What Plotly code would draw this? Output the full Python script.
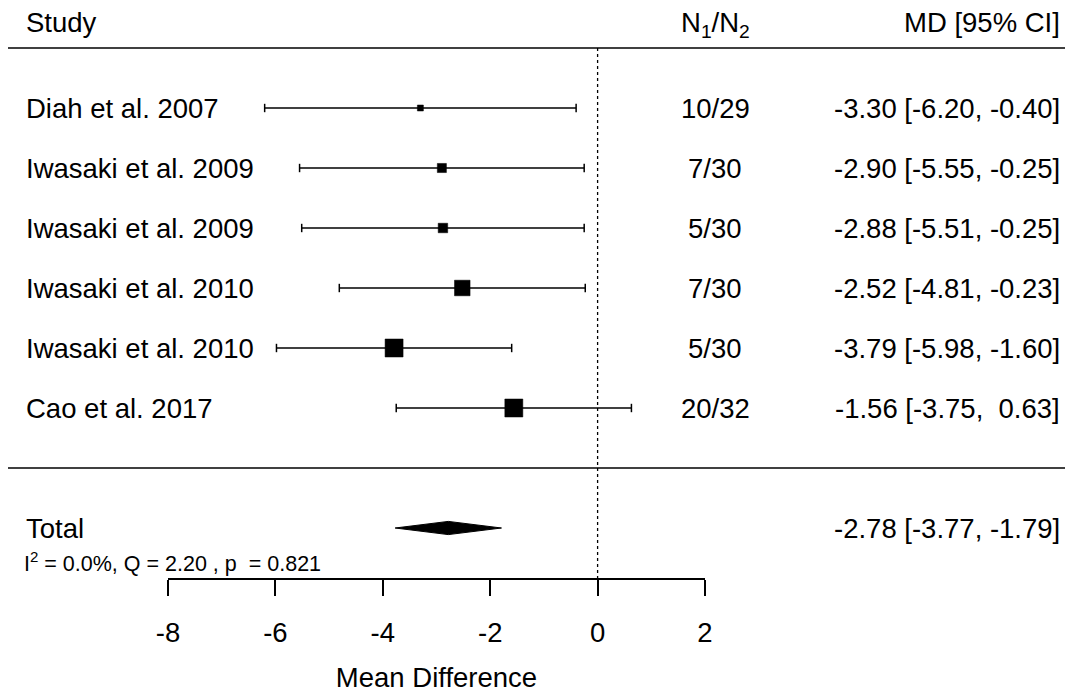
import plotly.graph_objects as go

### DATA

studies = ["Diah et al. 2007", "Iwasaki et al. 2009", "Iwasaki et al. 2009",
           "Iwasaki et al. 2010", "Iwasaki et al. 2010", "Cao et al. 2017"]
n_ratio = ["10/29", "7/30", "5/30", "7/30", "5/30", "20/32"]
md = [-3.30, -2.90, -2.88, -2.52, -3.79, -1.56]
ci_lo = [-6.20, -5.55, -5.51, -4.81, -5.98, -3.75]
ci_hi = [-0.40, -0.25, -0.25, -0.23, -1.60, 0.63]
weights = [11.7, 14.0, 14.3, 18.8, 20.6, 20.6]  # % weight, drives square size

total_md = -2.78
total_lo = -3.77
total_hi = -1.79
het_label = "I<sup>2</sup> = 0.0%, Q = 2.20 , p \u00a0= 0.821"

x_ticks = [-8, -6, -4, -2, 0, 2]

### SETUP

FONT = "Liberation Sans, Arial, sans-serif"
TXT = 27.5
W, H = 1073, 690
PAD = 8  # page body margin, pulled back so the picture lines up
rows = [9 - i for i in range(len(studies))]
y_total = 2.0
cap = 0.07

def fmt(v):
    return "{:5.2f}".format(v).replace(" ", "\u00a0")

def px(x):
    # screen pixel -> paper fraction
    return (x - PAD) / W

wmin, wmax = min(weights), max(weights)
sizes = [6 + 12 * (w - wmin) / (wmax - wmin) for w in weights]

fig = go.Figure()

# confidence intervals with end caps
xs, ys = [], []
for y, lo, hi in zip(rows, ci_lo, ci_hi):
    xs += [lo, hi, None, lo, lo, None, hi, hi, None]
    ys += [y, y, None, y - cap, y + cap, None, y - cap, y + cap, None]
fig.add_trace(go.Scatter(x=xs, y=ys, mode="lines",
                         line=dict(color="black", width=1.5),
                         hoverinfo="skip", showlegend=False))

# point estimates
fig.add_trace(go.Scatter(x=md, y=rows, mode="markers",
                         marker=dict(symbol="square", size=sizes, color="#000000",
                                     opacity=1, line=dict(color="#000000", width=0.5)),
                         showlegend=False, cliponaxis=False))

# summary diamond
fig.add_trace(go.Scatter(x=[total_lo, total_md, total_hi, total_md, total_lo],
                         y=[y_total, y_total + 0.11, y_total, y_total - 0.11, y_total],
                         mode="lines", fill="toself", fillcolor="black",
                         line=dict(color="black", width=1),
                         hoverinfo="skip", showlegend=False))

# reference line at zero
fig.add_trace(go.Scatter(x=[0, 0], y=[10, 1.1667], mode="lines",
                         line=dict(color="black", width=1.3, dash="dot"),
                         hoverinfo="skip", showlegend=False))

# horizontal rules
for yy in [10, 3]:
    fig.add_shape(type="line", xref="paper", yref="y", x0=px(4), x1=px(1073), y0=yy, y1=yy,
                  line=dict(color="black", width=1.5))

### TEXT COLUMNS

ann = []
def txt(x, y, s, anchor, size=TXT):
    ann.append(dict(x=x, y=y, xref="paper", yref="y", text=s, showarrow=False,
                    xanchor=anchor, yanchor="middle", font=dict(size=size, color="black")))

x_left = px(24)
x_n = px(715)
x_right = px(1062)

txt(x_left, 10.433, "Study", "left")
txt(x_n, 10.40, "N<sub>1</sub>/N<sub>2</sub>", "center")
txt(x_right, 10.433, "MD [95% CI]", "right")

for y, s, n, m, lo, hi in zip(rows, studies, n_ratio, md, ci_lo, ci_hi):
    txt(x_left, y, s, "left")
    txt(x_n, y, n, "center")
    txt(x_right, y, "{} [{}, {}]".format(fmt(m), fmt(lo), fmt(hi)).replace("\u00a0-", "-"), "right")

txt(x_left, y_total, "Total", "left")
txt(x_right, y_total, "{} [{}, {}]".format(fmt(total_md), fmt(total_lo), fmt(total_hi)), "right")
txt(x_left - 0.002, 1.433, het_label, "left", size=21.5)

### LAYOUT

fig.update_layout(
    width=W, height=H,
    margin=dict(l=0, r=0, t=0, b=H - (578 - PAD), autoexpand=False),
    paper_bgcolor="white", plot_bgcolor="white",
    font=dict(family=FONT, color="black"),
    annotations=ann,
    showlegend=False,
    xaxis=dict(domain=[px(168), px(705)], range=[-8, 2],
               tickvals=x_ticks, ticktext=[str(t) for t in x_ticks],
               showline=True, linecolor="black", linewidth=1.5,
               ticks="outside", ticklen=16, tickwidth=1.5, tickcolor="black",
               tickfont=dict(size=TXT), ticklabelstandoff=13, automargin=False,
               showgrid=False, zeroline=False,
               title=dict(text="Mean Difference", font=dict(size=TXT), standoff=21)),
    yaxis=dict(range=[1.1667, 10.8 - PAD / 60], visible=False, showgrid=False, zeroline=False),
)

fig.write_html("out.html")
